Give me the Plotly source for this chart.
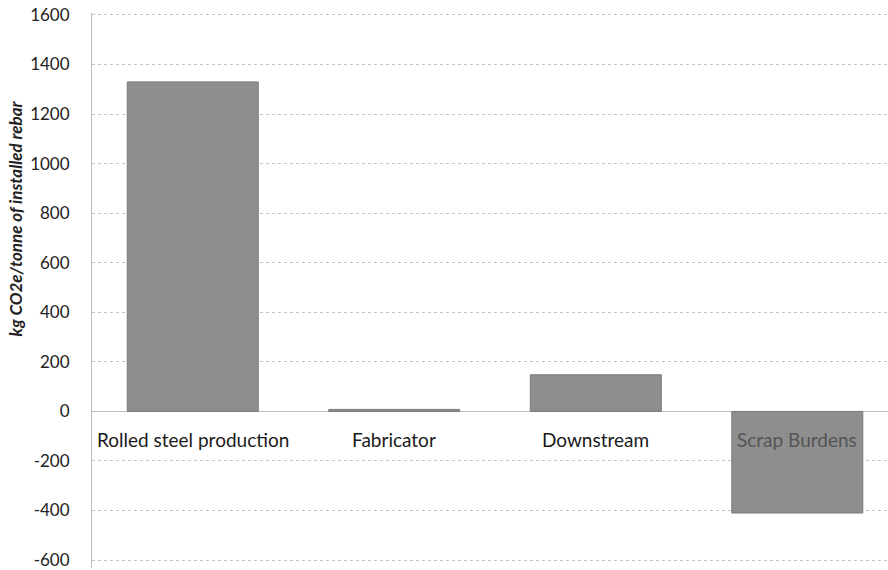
import plotly.graph_objects as go

categories = ["Rolled steel production", "Fabricator", "Downstream", "Scrap Burdens"]
values = [1330, 8, 148, -410]
y_ticks = [-600, -400, -200, 0, 200, 400, 600, 800, 1000, 1200, 1400, 1600]
y_tick_text = ["-600", "-400", "-200", "0", "200", "400", "600", "800", "1000", "1200", "1400", "1600"]
y_title = "kg CO2e/tonne of installed rebar"

FONT = "Lato, Open Sans, sans-serif"

fig = go.Figure()
fig.add_trace(go.Bar(
    x=categories, y=values, width=0.65,
    marker=dict(color="#8e8e8e", line=dict(color="#7a7a7a", width=1)),
    showlegend=False,
))

label_colors = ["#1a1a1a", "#1a1a1a", "#1a1a1a", "#555555"]
for c, col in zip(categories, label_colors):
    fig.add_annotation(x=c, y=0, xref="x", yref="y", text=c, showarrow=False,
                       yshift=-28, font=dict(size=19, color=col, family=FONT))

fig.add_annotation(x=-0.0967, y=0.63, xref="paper", yref="paper", text="<b><i>" + y_title + "</i></b>",
                   textangle=-90, showarrow=False, xanchor="center", yanchor="middle",
                   font=dict(size=17, color="#222", family=FONT))

fig.update_layout(
    width=888, height=570,
    margin=dict(l=92, r=0, t=13, b=2),
    plot_bgcolor="white", paper_bgcolor="white",
    font=dict(family=FONT, color="#222"),
    xaxis=dict(range=[-0.5, 3.45], showticklabels=False, showgrid=False, zeroline=False,
               showline=False, ticks="", automargin=False),
    yaxis=dict(range=[-632, 1608], tickvals=y_ticks, ticktext=y_tick_text, showgrid=True, gridcolor="#c4c4c4",
               griddash="dot", gridwidth=1, zeroline=True, zerolinecolor="#bdbdbd", zerolinewidth=1,
               showline=True, linecolor="#bbbbbb", linewidth=1, automargin=False,
               ticklabeloverflow="allow",
               tickfont=dict(size=17, color="#222"), ticks="", ticklabelstandoff=18),
)

fig.write_html("out.html", config={"displayModeBar": False},
               post_script="document.body.style.margin='0';document.body.style.overflow='hidden';")
